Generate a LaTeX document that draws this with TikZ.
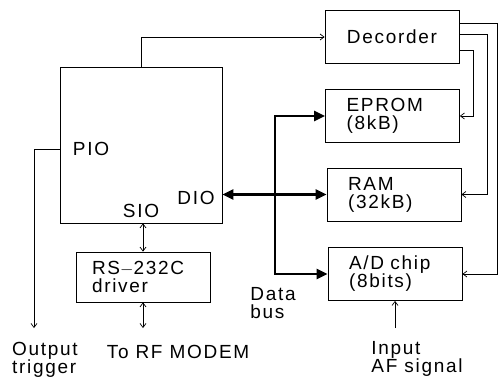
\documentclass[tikz,border=0pt]{standalone}
\usepackage{fontspec}
\setmainfont{Liberation Sans}[LetterSpace=9]
\usetikzlibrary{arrows.meta,calc}
\begin{document}
\begin{tikzpicture}[x=1pt,y=-1pt,
  every node/.style={font=\fontsize{19}{18}\selectfont, inner sep=0pt},
  box/.style={draw, line width=0.8pt, minimum width=134pt, minimum height=53pt},
  lbox/.style={box, align=left, text width=92pt},
  ln/.style={line width=0.7pt},
  arr/.style={ln, -{Straight Barb[length=4pt,width=6pt]}},
  darr/.style={ln, {Straight Barb[length=4pt,width=6pt]}-{Straight Barb[length=4pt,width=6pt]}},
  bus/.style={line width=2.6pt, {Triangle[length=11pt,width=10pt]}-{Triangle[length=11pt,width=10pt]}}
]
\useasboundingbox (0,0) rectangle (502,380);
% boxes
\node[draw, line width=0.8pt, minimum width=162pt, minimum height=156pt] (cpu) at (141,145) {};
\node[box] (dec) at (392,37) {Decorder};
\node[lbox] (eprom) at (392.5,116) {EPROM\\(8kB)};
\node[lbox] (ram) at (394,194.5) {RAM\\(32kB)};
\node[lbox] (ad) at (395,274) {A/D chip\\(8bits)};
\node[lbox, minimum height=50pt, text width=102pt] (rs) at (143,277) {RS{\addfontfeature{LetterSpace=0}$-$}232C\\driver};
% labels
\node (pio) at (91,149) {PIO};
\node (sio) at (141,211) {SIO};
\node (dio) at (196,198) {DIO};
\node[align=left] (out) at (45,360) {Output\\trigger};
\node (rf) at (178,352) {To RF MODEM};
\node[align=left] (db) at (273,303) {Data\\bus};
\node[align=left] (inp) at (417,359) {Input\\AF signal};
% free ends
\coordinate (trig) at (34,328);
\coordinate (rfend) at (143,328);
\coordinate (inend) at (395,328);
\coordinate (bx) at (275,0);
% connectors
\draw[arr] (cpu.north) |- (dec.west);
\draw[arr] ([yshift=14pt]dec.east) -| ([xshift=35pt]ad.east) -- (ad.east);
\draw[arr] ([yshift=3pt]dec.east) -| ([xshift=26pt]ram.east) -- (ram.east);
\draw[arr] ([yshift=-13pt]dec.east) -| ([xshift=13pt]eprom.east) -- (eprom.east);
\draw[arr] (pio.west -| cpu.west) -| (trig);
\draw[darr] (cpu.south -| rs.north) -- (rs.north);
\draw[darr] (rs.south) -- (rfend);
\draw[arr] (inend) -- (ad.south);
\draw[bus] (eprom.west) -- (bx |- eprom.west) -- (bx |- ad.west) -- (ad.west);
\draw[bus] (cpu.east |- ram.west) -- (ram.west);
\end{tikzpicture}
\end{document}
